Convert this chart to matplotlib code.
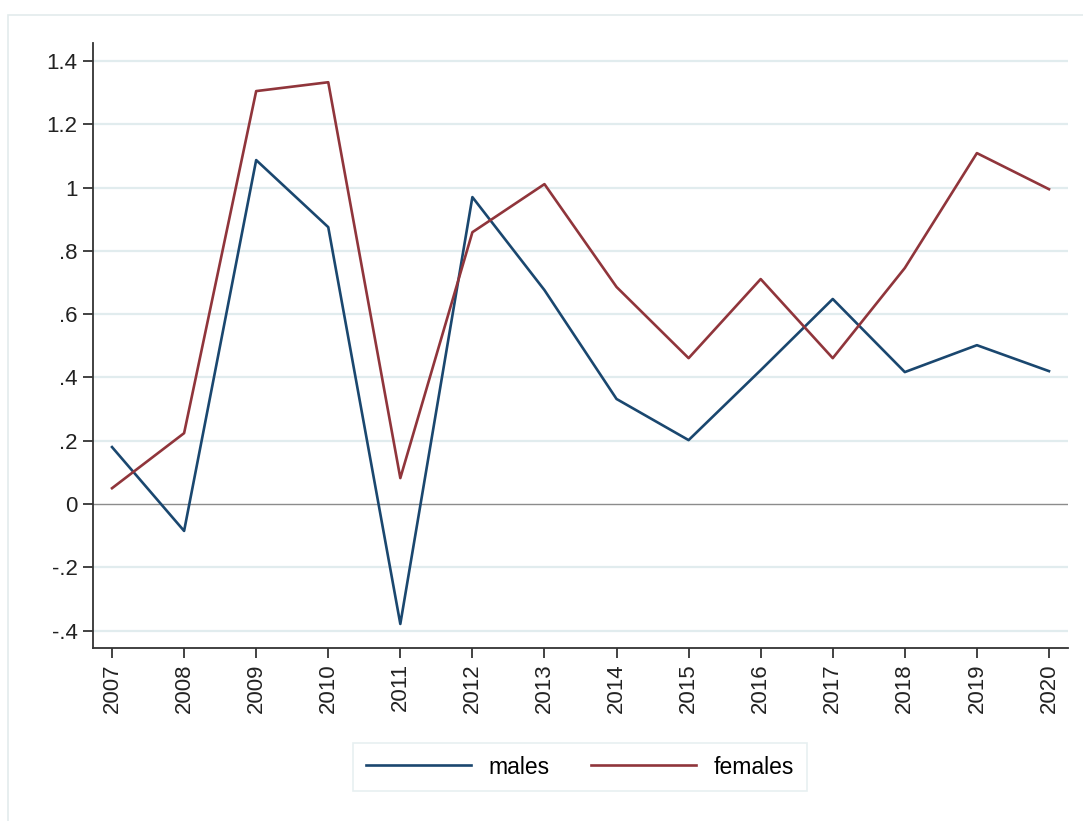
import matplotlib
matplotlib.use("Agg")
import matplotlib.pyplot as plt
from matplotlib.patches import Rectangle

years = [2007, 2008, 2009, 2010, 2011, 2012, 2013, 2014, 2015, 2016, 2017, 2018, 2019, 2020]
males = [0.18, -0.085, 1.087, 0.875, -0.379, 0.97, 0.676, 0.332, 0.202, 0.423, 0.648, 0.417, 0.502, 0.42]
females = [0.05, 0.224, 1.305, 1.333, 0.082, 0.859, 1.011, 0.686, 0.461, 0.711, 0.461, 0.746, 1.109, 0.995]
ytick_vals = [-0.4, -0.2, 0, 0.2, 0.4, 0.6, 0.8, 1.0, 1.2, 1.4]
ytick_labels = ["-.4", "-.2", "0", ".2", ".4", ".6", ".8", "1", "1.2", "1.4"]

plt.rcParams["font.family"] = ["Liberation Sans", "DejaVu Sans"]

W, H = 1083, 821
fig = plt.figure(figsize=(W / 100, H / 100), dpi=100)
fig.patch.set_facecolor("white")

# outer graph-region frame
fig.patches.append(Rectangle((8 / W, -0.05), 1.1, 1 - 15 / H + 0.05,
                             transform=fig.transFigure, fill=False,
                             edgecolor="#e3ebec", linewidth=1.2))

ax = fig.add_axes([93 / W, 1 - 648 / H, (1068 - 93) / W, (648 - 43) / H])
ax.set_facecolor("white")

ax.set_xlim(2006.736, 2020.264)
ax.set_ylim(-0.455, 1.457)

for v in ytick_vals:
    if v == 0:
        ax.axhline(0, color="#8c8c8c", linewidth=1.0, zorder=1)
    else:
        ax.axhline(v, color="#e1ecee", linewidth=1.6, zorder=0)

ax.plot(years, males, color="#1a476f", linewidth=1.9, label="males", zorder=3)
ax.plot(years, females, color="#90353b", linewidth=1.9, label="females", zorder=3)

ax.set_yticks(ytick_vals)
ax.set_yticklabels(ytick_labels)
ax.set_xticks(years)
ax.set_xticklabels([str(y) for y in years], rotation=90)

ax.tick_params(axis="both", labelsize=16, colors="#222222", length=7, width=1.2, pad=4)
for side in ["top", "right"]:
    ax.spines[side].set_visible(False)
for side in ["left", "bottom"]:
    ax.spines[side].set_color("#333333")
    ax.spines[side].set_linewidth(1.3)

leg = fig.legend(loc="center", bbox_to_anchor=(580 / W, 1 - 767 / H), ncol=2,
                 frameon=True, fontsize=16.5, handlelength=4.6, columnspacing=1.8,
                 handletextpad=0.75, borderpad=0.55, fancybox=False)
leg.get_frame().set_edgecolor("#e1ecee")
leg.get_frame().set_linewidth(1.2)

fig.savefig("out.png", dpi=100)
